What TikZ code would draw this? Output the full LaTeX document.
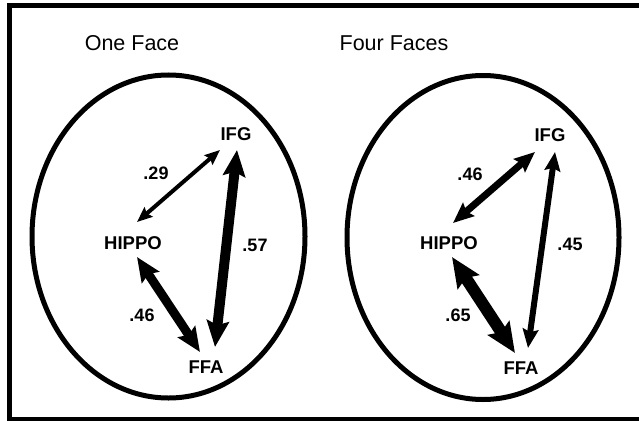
\documentclass[tikz,border=0pt]{standalone}
\usepackage{fontspec}
\setmainfont{Liberation Sans}
\usetikzlibrary{arrows.meta}
\tikzset{
	title/.style={font=\fontsize{21.5}{22}\selectfont, inner sep=0pt},
	region/.style={font=\fontsize{18.5}{19}\selectfont\bfseries, inner sep=0pt},
	weight/.style={font=\fontsize{18}{19}\selectfont\bfseries, inner sep=0pt},
	tip/.style={Stealth[length=8pt 1.8,width=6pt 1.6,inset=1pt 0.3]},
	link/.style={line width=#1, {Stealth[length=8pt 1.8,width=6pt 1.6,inset=1pt 0.3]}-{Stealth[length=8pt 1.8,width=6pt 1.6,inset=1pt 0.3]}},
}
\begin{document}
\begin{tikzpicture}[x=1pt,y=-1pt]
		\useasboundingbox (0,0) rectangle (639,420);
		\draw[line width=5pt] (9.5,5.5) rectangle (642,419.5);
		% one face
		\node[title] (titleA) at (132,43) {One Face};
		\draw[line width=5pt] (168.5,236.5) ellipse [x radius=136.5, y radius=161.5];
		\node[region] (ifgA) at (236,134) {IFG};
		\node[region] (hippoA) at (133,243) {HIPPO};
		\node[region] (ffaA) at (206,367) {FFA};
		\draw[link=4pt] ([shift={(4,-21)}]hippoA.center) -- ([shift={(-16,16)}]ifgA.center);
		\draw[link=10pt] ([shift={(9,-20)}]ffaA.center) -- ([shift={(1,16)}]ifgA.center);
		\draw[link=9pt] ([shift={(4,14)}]hippoA.center) -- ([shift={(-6,-15)}]ffaA.center);
		\node[weight] (wA1) at (156,173) {.29};
		\node[weight] (wA2) at (255,245) {.57};
		\node[weight] (wA3) at (142,315) {.46};
		% four faces
		\node[title] (titleB) at (394,43) {Four Faces};
		\draw[line width=5pt] (483,237.5) ellipse [x radius=136, y radius=162];
		\node[region] (ifgB) at (550,135) {IFG};
		\node[region] (hippoB) at (449,243) {HIPPO};
		\node[region] (ffaB) at (521,368) {FFA};
		\draw[link=7pt] ([shift={(4,-20)}]hippoB.center) -- ([shift={(-15,17)}]ifgB.center);
		\draw[link=6pt] ([shift={(7,-20)}]ffaB.center) -- ([shift={(5,17)}]ifgB.center);
		\draw[link=12pt] ([shift={(3,14)}]hippoB.center) -- ([shift={(-6,-15)}]ffaB.center);
		\node[weight] (wB1) at (470,174) {.46};
		\node[weight] (wB2) at (570,244) {.45};
		\node[weight] (wB3) at (458,315) {.65};
\end{tikzpicture}
\end{document}
